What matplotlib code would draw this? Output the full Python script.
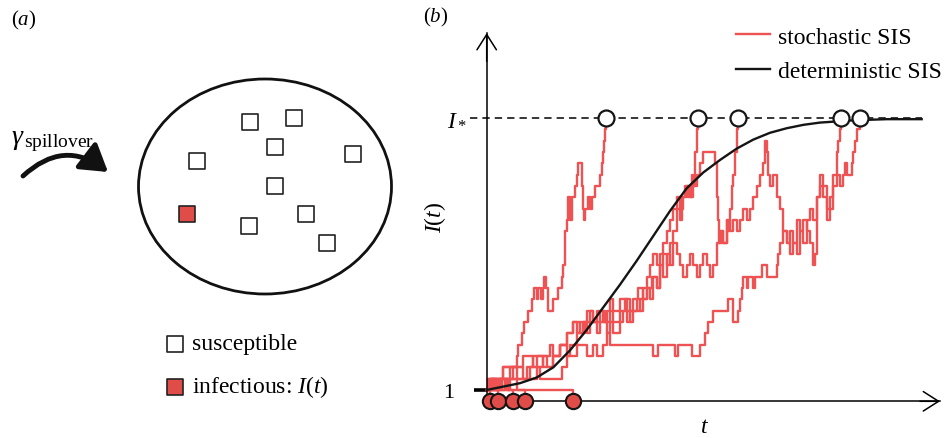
import matplotlib
matplotlib.use('Agg')
import matplotlib.pyplot as plt
from matplotlib.patches import Ellipse, FancyArrowPatch
from matplotlib.lines import Line2D

plt.rcParams['font.family'] = ['Liberation Serif', 'DejaVu Serif']
plt.rcParams['mathtext.fontset'] = 'custom'
plt.rcParams['mathtext.rm'] = 'Liberation Serif'
plt.rcParams['mathtext.it'] = 'Liberation Serif:italic'

W, H = 949, 439
RED = '#ee5252'
RED_FILL = '#e04c47'

# ---------------- panel (a): population sketch ----------------
susc_x = [25.0, 29.4, 27.5, 35.3, 19.7, 27.5, 24.9, 30.6, 32.7]
susc_y = [31.6, 32.0, 29.1, 28.4, 27.7, 25.2, 21.2, 22.4, 19.5]
inf_x = [18.7]
inf_y = [22.4]
pop_centre = (26.5, 25.15)
pop_size = (25.3, 21.5)
key_labels = ['susceptible', 'infectious: $I(t)$']

# ---------------- panel (b): SIS trajectories ----------------
I_STAR = 25

# runs that reach I*
runA_t = [0, 0.5, 5, 9, 9.5, 10.5, 11.3, 12.5, 13.5, 14.3, 15, 15.5, 16.2, 16.8, 17.3,
          17.8, 18.3, 20, 21.5, 22.5, 23, 23.5, 24, 24.5, 25, 25.7, 26.5, 27, 27.5, 28.5,
          28.7, 28.8, 29.2, 29.5, 30.5, 31, 31.5, 32.5, 33, 34, 34.5, 34.8, 35.2, 35.5, 35.8]
runA_I = [1, 2, 3, 4, 5, 6, 7, 8, 9, 10, 9, 10, 9, 10, 11,
          10, 8, 9, 10, 11, 12, 15, 16, 18, 16, 18, 19, 20, 21, 20,
          19, 17, 16, 17, 18, 17, 18, 19, 19, 20, 21, 22, 23, 24, 25]

runB_t = [0, 1.5, 5, 9, 12, 14, 17, 20, 22, 24, 26, 28, 29.5, 31, 32, 34, 35.5, 37, 38, 40,
          41.5, 43, 44, 45.5, 47, 48, 49.5, 51, 52, 53, 54, 55, 56, 57, 58, 58.5, 59.5, 60.5,
          61.5, 62, 62.5, 63, 63.5]
runB_I = [1, 2, 3, 2, 3, 4, 3, 4, 5, 6, 7, 6, 7, 8, 7, 8, 7, 8, 7, 8,
          9, 8, 9, 10, 9, 10, 11, 10, 12, 13, 12, 14, 15, 17, 16, 18, 19, 18,
          20, 19, 22, 24, 25]

runC_t = [0, 1, 3, 4, 7, 11, 13, 15, 18, 20, 22, 24, 25, 27, 29, 30, 31, 33, 34, 36,
          37, 38, 40, 41, 42, 43, 45, 46, 47, 48, 49, 50, 51, 52, 53, 54, 55, 56, 57, 58,
          59, 60, 61, 62, 63, 64, 65, 66, 67, 68, 69, 70, 71, 72, 72.5, 73, 73.5, 74, 74.5, 75,
          75.5]
runC_I = [1, 2, 1, 2, 3, 2, 3, 4, 3, 4, 5, 4, 5, 6, 7, 6, 7, 6, 7, 6,
          7, 6, 7, 8, 7, 8, 9, 8, 9, 10, 9, 11, 10, 12, 11, 13, 12, 14, 13, 12,
          11, 12, 13, 12, 11, 12, 13, 12, 11, 12, 14, 15, 14, 16, 15, 17, 19, 20, 22, 24,
          25]

runD_t = [0, 1.5, 2.5, 3.5, 8, 11, 14, 17, 19, 20, 22, 24, 26, 27, 28, 30, 32, 33, 35, 36,
          37, 38, 40, 42, 43, 44, 46, 47, 48, 49, 50, 51, 52, 53, 54, 55, 56, 57, 58, 59,
          60, 61, 62, 63, 64, 65, 68.5, 69, 69.3, 69.6, 70.5, 71, 72, 73, 74, 75, 76, 77, 78, 79,
          80, 81, 82, 83, 83.5, 84, 84.5, 85, 86, 87, 88, 89, 90, 91, 92, 93, 94, 95, 96, 97,
          98, 98.5, 99, 100, 101, 102, 103, 104, 105, 105.5, 106, 106.3]
runD_I = [1, 2, 1, 2, 3, 4, 3, 4, 5, 4, 5, 6, 7, 6, 7, 8, 7, 8, 7, 8,
          9, 8, 9, 8, 7, 8, 9, 10, 11, 12, 13, 12, 13, 14, 15, 16, 17, 18, 17, 18,
          19, 18, 19, 20, 21, 22, 21, 18, 16, 14, 15, 14, 16, 15, 16, 15, 16, 17, 16, 17,
          18, 19, 20, 21, 23, 22, 20, 19, 20, 18, 17, 15, 14, 15, 14, 13, 15, 16, 15, 14,
          12, 13, 18, 20, 19, 17, 18, 20, 22, 23, 24, 25]

runE_t = [0, 4.5, 15, 16, 22.5, 24, 27, 30, 32, 33, 35, 36, 37, 50, 51.5, 56.5, 57.5, 61.5, 64, 65.5,
          66.5, 68, 72.5, 74, 75.5, 76, 76.5, 77, 78, 78.5, 80, 80.5, 82.5, 84, 87, 87.5, 88, 89, 90, 91,
          92, 93, 94, 95, 96, 97, 98, 99, 100, 101, 102, 103, 104, 105, 106, 107, 107.5, 108, 109.5, 110,
          110.5, 111, 111.5, 112]
runE_I = [1, 2, 3, 2, 3, 4, 5, 4, 5, 4, 5, 6, 5, 4, 5, 4, 5, 4, 5, 6,
          7, 8, 9, 7, 8, 9, 10, 11, 10, 11, 10, 11, 12, 11, 12, 13, 14, 15, 14, 13,
          14, 16, 15, 14, 16, 17, 16, 18, 19, 18, 16, 17, 19, 20, 19, 20, 21, 20, 21, 22,
          23, 24, 24, 25]

# runs that die out
fade_t = [[0, 1.1], [0, 0.5, 2, 3.5], [0, 2.5, 4.5, 5.5, 6.5, 8.0],
          [0, 1, 3, 4, 6, 7, 9, 11.5], [0, 25.8]]
fade_I = [[1, 0], [1, 2, 1, 0], [1, 2, 1, 2, 1, 0],
          [1, 2, 1, 2, 1, 2, 1, 0], [1, 0]]

hit_times = [35.8, 63.5, 75.5, 106.3, 112]
fade_times = [1.1, 3.5, 8.0, 11.5, 25.8]

det_t = [0, 5, 10, 15, 20, 25, 30, 35, 40, 45, 50, 55, 60, 65, 70, 75, 80, 85, 90, 95,
         100, 110, 120, 130.5]
det_I = [1.0, 1.3, 1.6, 2.1, 3.0, 4.5, 6.3, 8.3, 10.3, 12.4, 14.6, 16.8, 18.8, 20.2, 21.3,
         22.3, 23.1, 23.7, 24.1, 24.4, 24.6, 24.8, 24.9, 24.9]

# ---------------- layout helpers ----------------
def px_box(x0, x1, y0, y1):
    return [x0 / W, 1 - y1 / H, (x1 - x0) / W, (y1 - y0) / H]

fig = plt.figure(figsize=(W / 100, H / 100), dpi=100)

# panel (a)
ax_a = fig.add_axes([0, 0, 430 / W, 1])
ax_a.set_xlim(0, 43)
ax_a.set_ylim(0, 43.9)
ax_a.axis('off')
ax_a.add_patch(Ellipse(pop_centre, pop_size[0], pop_size[1], fill=False, lw=2.0, ec='#111111'))
ax_a.scatter(susc_x, susc_y, marker='s', s=125, facecolor='white', edgecolor='#222222', lw=1.2, zorder=3)
ax_a.scatter(inf_x, inf_y, marker='s', s=125, facecolor=RED_FILL, edgecolor='#222222', lw=1.2, zorder=3)
ax_a.add_patch(FancyArrowPatch((2.3, 26.2), (10.8, 26.6), connectionstyle='arc3,rad=-0.42',
                               arrowstyle='-|>,head_length=0.8,head_width=0.5', mutation_scale=20,
                               lw=3.5, color='#111111', shrinkA=0, shrinkB=0))
ax_a.text(1.1, 29.5, r'$\gamma_{\,\mathrm{spillover}}$', fontsize=20, ha='left', va='baseline')
ax_a.scatter([17.5], [9.4], marker='s', s=125, facecolor='white', edgecolor='#222222', lw=1.2)
ax_a.scatter([17.5], [5.15], marker='s', s=125, facecolor=RED_FILL, edgecolor='#222222', lw=1.2)
ax_a.text(19.2, 9.4, key_labels[0], fontsize=17, va='center', ha='left')
ax_a.text(19.2, 5.15, key_labels[1], fontsize=17, va='center', ha='left')
fig.text(24 / W, 1 - 20 / H, '($a$)', fontsize=15, ha='center', va='center')

# panel (b)
T0, TS = 486.7, 3.333     # pixel of t=0, pixels per unit t
I0, IS = 402.3, 11.33     # pixel of I=0, pixels per unit I
tlim = (-8, 138)
ilim = (-3, 35)
ax = fig.add_axes(px_box(T0 + tlim[0] * TS, T0 + tlim[1] * TS, I0 - ilim[1] * IS, I0 - ilim[0] * IS))
ax.set_xlim(*tlim)
ax.set_ylim(*ilim)
ax.patch.set_alpha(0)
for s in ['top', 'right']:
    ax.spines[s].set_visible(False)
ax.spines['left'].set_position(('data', 0))
ax.spines['bottom'].set_position(('data', 0))
ax.spines['left'].set_bounds(0, 32.5)
ax.spines['bottom'].set_bounds(0, 136)
for s in ['left', 'bottom']:
    ax.spines[s].set_linewidth(1.1)
ax.set_xticks([])
ax.set_yticks([1], ['1'])
ax.tick_params(axis='y', length=9.5, width=2.6, pad=14, labelsize=16)

arrow_kw = dict(arrowstyle='->,head_length=1.1,head_width=0.7', mutation_scale=10,
                lw=1.1, color='black', shrinkA=0, shrinkB=0)
ax.annotate('', xy=(0, 32.5), xytext=(0, 30), arrowprops=arrow_kw)
ax.annotate('', xy=(136, 0), xytext=(130, 0), arrowprops=arrow_kw)

ax.hlines(I_STAR, -5, 130.5, colors='black', lw=1.1, linestyles=(0, (4.8, 3.3)), zorder=3)

runs = [(runA_t, runA_I), (runB_t, runB_I), (runC_t, runC_I), (runD_t, runD_I), (runE_t, runE_I)]
runs += list(zip(fade_t, fade_I))
for tt, ii in runs:
    ax.plot(tt, ii, drawstyle='steps-post', color=RED, lw=1.7, zorder=2)

ax.plot(det_t, det_I, color='#151515', lw=1.7, zorder=3)

ax.plot(hit_times, [I_STAR] * len(hit_times), 'o', ms=11.5, mfc='white', mec='#151515', mew=1.6,
        zorder=5, clip_on=False)
ax.plot(fade_times, [0] * len(fade_times), 'o', ms=11, mfc=RED_FILL, mec='#151515', mew=1.5,
        zorder=5, clip_on=False)

ax.text(-9.0, I_STAR, r'$I_*$', fontsize=17, ha='center', va='center')
ax.text(-15.5, 16.3, r'$I(t)$', fontsize=17, ha='center', va='center', rotation=90)
ax.text(65.5, -2.2, r'$t$', fontsize=17, ha='center', va='center')
fig.text(436 / W, 1 - 17 / H, '($b$)', fontsize=15, ha='center', va='center')

handles = [Line2D([], [], color=RED, lw=1.7), Line2D([], [], color='#151515', lw=1.7)]
ax.legend(handles, ['stochastic SIS', 'deterministic SIS'], loc='upper left',
          bbox_to_anchor=(736 / W, 1 - 27 / H), bbox_transform=fig.transFigure,
          frameon=False, fontsize=17, handlelength=1.45, handletextpad=0.35,
          labelspacing=0.55, borderpad=0, borderaxespad=0)

fig.savefig('out.png', dpi=100)
